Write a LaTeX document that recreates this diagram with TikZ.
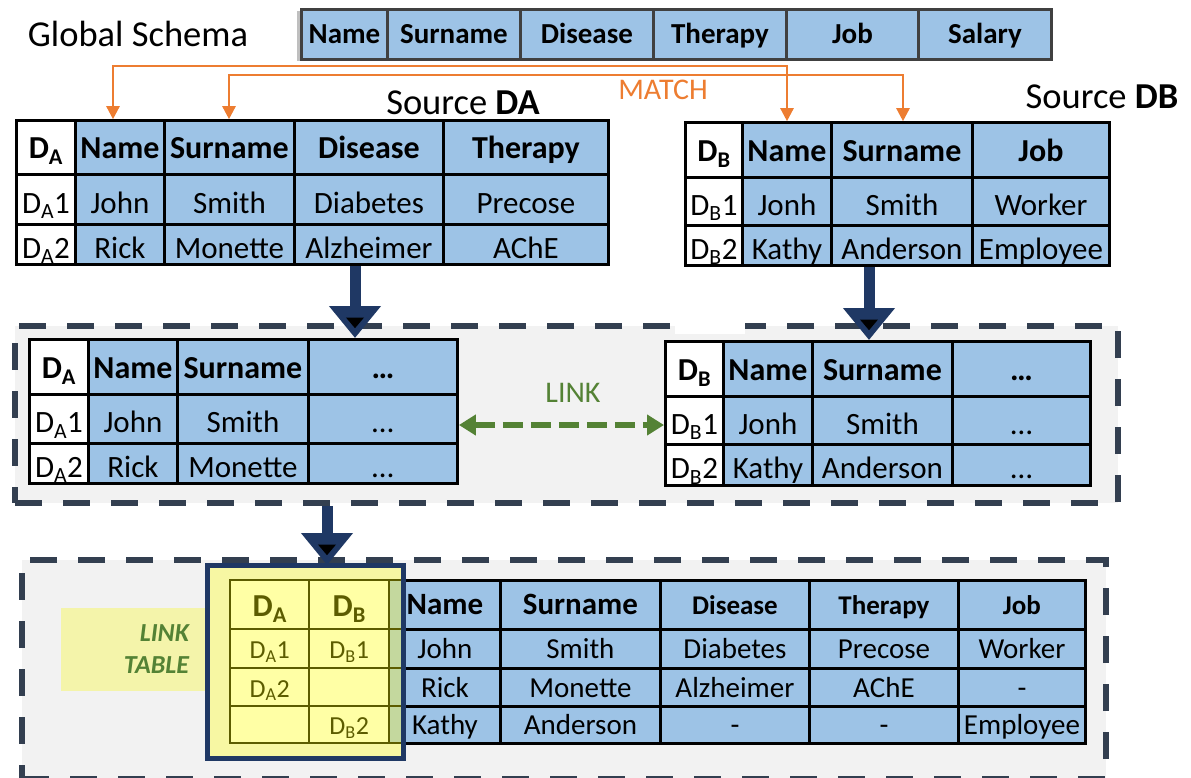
\documentclass[tikz,border=0pt]{standalone}
\usepackage{fontspec}
\setmainfont{Carlito}
\usetikzlibrary{matrix,arrows.meta}

\definecolor{cellblue}{HTML}{9DC3E6}
\definecolor{schemagrey}{HTML}{404040}
\definecolor{shadowgrey}{HTML}{BFBFBF}
\definecolor{matchorange}{HTML}{ED7D31}
\definecolor{linkgreen}{HTML}{548235}
\definecolor{arrownavy}{HTML}{1F3864}
\definecolor{dashslate}{HTML}{333F50}
\definecolor{boxgrey}{HTML}{F2F2F2}
\definecolor{linkyellow}{HTML}{FFFFA5}
\definecolor{frameyellow}{HTML}{F7F7A3}
\definecolor{labelyellow}{HTML}{F4F4AA}
\definecolor{olive}{HTML}{5C5C00}
\definecolor{stripgreen}{HTML}{C4D89E}

\newcommand{\titlefont}{\fontsize{36.5}{42}\selectfont}
\newcommand{\headfont}{\fontsize{32}{38}\selectfont\bfseries}
\newcommand{\cellfont}{\fontsize{31}{36}\selectfont}
\newcommand{\globfont}{\fontsize{29}{34}\selectfont\bfseries}
\newcommand{\mergehead}{\fontsize{31}{36}\selectfont\bfseries}
\newcommand{\mergesmall}{\fontsize{27}{32}\selectfont\bfseries}
\newcommand{\mergecell}{\fontsize{29}{34}\selectfont}
\newcommand{\linkcell}{\fontsize{26}{30}\selectfont}
\newcommand{\matchfont}{\fontsize{30}{36}\selectfont}
\newcommand{\labelfont}{\fontsize{26}{32}\selectfont\bfseries\itshape}

\begin{document}
\begin{tikzpicture}[x=1pt, y=-1pt,
  tbl/.style={matrix of nodes, nodes in empty cells, inner sep=0pt, column sep=-2.5pt, row sep=-2.5pt, anchor=north west,
    nodes={draw=black, line width=2.5pt, fill=cellblue, inner sep=0pt, text height=30pt, text depth=2pt, font=\cellfont}},
  colw/.style args={#1:#2}{column #1/.style={nodes={minimum width=#2}}},
  rowh/.style args={#1:#2}{row #1/.style={nodes={minimum height=#2}}},
  idcol/.style={column 1/.style={nodes={minimum width=#1, fill=white}}},
  headrow/.style 2 args={row 1/.style={nodes={minimum height=#1, font=#2, text height=26pt, text depth=3pt}}},
  stagebox/.style={draw=dashslate, line width=6pt, dash pattern=on 27pt off 21pt, fill=boxgrey, anchor=north west, inner sep=0pt},
  labelbox/.style={fill=labelyellow, text width=110pt, inner xsep=18pt, inner ysep=0pt, minimum height=83pt, align=right, font=\labelfont, text=linkgreen},
  matchline/.style={draw=matchorange, line width=2.5pt, {Triangle[width=13pt,length=13pt]}-{Triangle[width=13pt,length=13pt]}},
  flowarrow/.style={draw=arrownavy, line width=11pt, -{Triangle[width=50pt,length=32pt]}},
  flowcore/.style={draw=black, draw opacity=0, line width=1pt, shorten >=9pt, -{Triangle[width=20pt,length=12pt,fill=black]}},
  linkarrow/.style={draw=linkgreen, line width=6pt, dash pattern=on 20pt off 8pt, {Triangle[width=20pt,length=17pt]}-{Triangle[width=20pt,length=17pt]}}]

  \useasboundingbox (0,0) rectangle (1191,777);

  % global schema
  \fill[shadowgrey] (297,11) rectangle (1047,61);
  \matrix (glob) [tbl, nodes={draw=schemagrey, font=\globfont, text height=22pt, text depth=3pt, minimum height=50pt},
    colw=1:86pt, colw=2:133pt, colw=3:133pt, colw=4:133pt, colw=5:132pt, colw=6:133pt] at (300,8) {
    Name & Surname & Disease & Therapy & Job & Salary \\
  };
  \node[font=\titlefont] (globtitle) at (138,34) {Global Schema};

  % sources
  \node[font=\titlefont] (titleA) at (463,103) {Source \textbf{DA}};
  \node[font=\titlefont] (titleB) at (1102,97) {Source \textbf{DB}};
  \matrix (srcA) [tbl, idcol=59pt, headrow={54pt}{\headfont}, colw=2:89pt, colw=3:130pt, colw=4:149pt, colw=5:165pt,
    rowh=2:50pt, rowh=3:40pt] at (15,119) {
    D\textsubscript{A} & Name & Surname & Disease & Therapy \\
    D\textsubscript{A}1 & John & Smith & Diabetes & Precose \\
    D\textsubscript{A}2 & Rick & Monette & Alzheimer & AChE \\
  };
  \matrix (srcB) [tbl, idcol=57pt, headrow={55pt}{\headfont}, colw=2:89pt, colw=3:141pt, colw=4:137pt,
    rowh=2:48pt, rowh=3:40pt] at (684,121) {
    D\textsubscript{B} & Name & Surname & Job \\
    D\textsubscript{B}1 & Jonh & Smith & Worker \\
    D\textsubscript{B}2 & Kathy & Anderson & Employee \\
  };

  % linking stage
  \node[stagebox, minimum width=1103pt, minimum height=177pt] (midbox) at (12,323) {};
  \fill[white] (675,318) rectangle (745,334);
  \matrix (midA) [tbl, idcol=59pt, headrow={55pt}{\headfont}, colw=2:89pt, colw=3:131pt, colw=4:149pt,
    rowh=2:49pt, rowh=3:40pt] at (28,338) {
    D\textsubscript{A} & Name & Surname & … \\
    D\textsubscript{A}1 & John & Smith & … \\
    D\textsubscript{A}2 & Rick & Monette & … \\
  };
  \matrix (midB) [tbl, idcol=58pt, headrow={55pt}{\headfont}, colw=2:89pt, colw=3:140pt, colw=4:138pt,
    rowh=2:48pt, rowh=3:41pt] at (664,340) {
    D\textsubscript{B} & Name & Surname & … \\
    D\textsubscript{B}1 & Jonh & Smith & … \\
    D\textsubscript{B}2 & Kathy & Anderson & … \\
  };
  \node[font=\matchfont, text=linkgreen] (linktext) at (573,393) {LINK};

  % merged result
  \node[stagebox, minimum width=1084pt, minimum height=219pt] (mergebox) at (19,557) {};
  \node[labelbox] (linklabel) at (134,649.5) {LINK\\TABLE};
  \matrix (merged) [tbl, nodes={font=\mergecell, text height=23pt, text depth=3pt},
    row 1/.style={nodes={minimum height=49pt, font=\mergehead}},
    colw=1:111pt, colw=2:160pt, colw=3:149pt, colw=4:149pt, colw=5:127pt,
    rowh=2:39pt, rowh=3:38pt, rowh=4:37pt] at (388,579) {
    Name & Surname & |[font=\mergesmall]| Disease & |[font=\mergesmall]| Therapy & |[font=\mergesmall]| Job \\
    John & Smith & Diabetes & Precose & Worker \\
    Rick & Monette & Alzheimer & AChE & - \\
    Kathy & Anderson & - & - & Employee \\
  };
  \node[draw=arrownavy, line width=5pt, fill=frameyellow, minimum width=196pt, minimum height=193pt,
    anchor=north west, inner sep=0pt, outer sep=0pt] (frame) at (207,565) {};
  \matrix (linktab) [tbl, column sep=-2pt, row sep=-2pt,
    nodes={draw=olive, line width=2pt, fill=linkyellow, text=olive, font=\linkcell, text height=23pt, text depth=3pt},
    headrow={49pt}{\headfont}, colw=1:79pt, colw=2:80pt, column 3/.style={nodes={minimum width=14pt, fill=stripgreen}},
    rowh=2:39pt, rowh=3:38pt, rowh=4:37pt] at (229,579) {
    D\textsubscript{A} & D\textsubscript{B} & \\
    D\textsubscript{A}1 & D\textsubscript{B}1 & \\
    D\textsubscript{A}2 & & \\
    & D\textsubscript{B}2 & \\
  };
  \draw[arrownavy, line width=5pt] (frame.north west) rectangle (frame.south east);

  % connectors
  \coordinate (m1) at (113,66);
  \coordinate (m2) at (787,66);
  \coordinate (m3) at (229,75);
  \coordinate (m4) at (903,75);
  \draw[matchline] (srcA-1-2.north -| m1) |- (m2) -- (srcB-1-2.north -| m2);
  \draw[matchline] (srcA-1-3.north -| m3) |- (m4) -- (srcB-1-3.north -| m4);
  \node[font=\matchfont, text=matchorange] (matchtext) at (663,90) {MATCH};

  \coordinate (fa) at (355,0);
  \coordinate (fb) at (869,0);
  \coordinate (fc) at (327,0);
  \draw[flowarrow] (srcA.south -| fa) -- (midA.north -| fa);
  \draw[flowcore] (srcA.south -| fa) -- (midA.north -| fa);
  \draw[flowarrow] (srcB.south -| fb) -- (midB.north -| fb);
  \draw[flowcore] (srcB.south -| fb) -- (midB.north -| fb);
  \draw[flowarrow] (midbox.south -| fc) -- (frame.north -| fc);
  \draw[flowcore] (midbox.south -| fc) -- (frame.north -| fc);

  \coordinate (ly) at (0,425);
  \draw[linkarrow] (midA.east |- ly) -- (midB.west |- ly);
\end{tikzpicture}
\end{document}
